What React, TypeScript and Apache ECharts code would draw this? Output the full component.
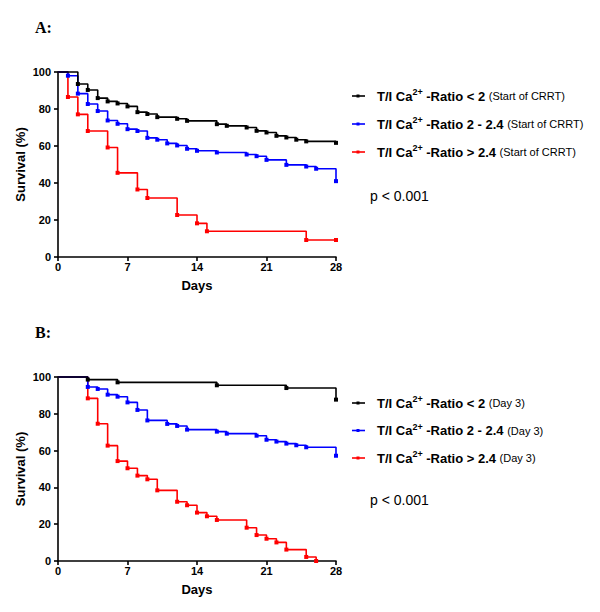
import React, { useEffect, useRef } from 'react';
import * as echarts from 'echarts';

const xTicks = [0, 7, 14, 21, 28];
const yTicks = [0, 20, 40, 60, 80, 100];

const aBlackDays = [0, 2, 3, 4, 5, 6, 7, 8, 9, 10, 12, 13, 16, 17, 19, 20, 21, 22, 23, 24, 25, 28];
const aBlackVals = [100, 93.5, 90.3, 85.9, 84.1, 83.0, 81.4, 78.3, 77.3, 75.6, 74.7, 73.6, 71.8, 70.9, 70.0, 68.2, 67.3, 65.5, 64.6, 63.4, 62.5, 61.7];

const aBlueDays = [0, 1, 2, 3, 4, 5, 6, 7, 8, 9, 10, 11, 12, 13, 14, 16, 19, 20, 21, 23, 25, 26, 28];
const aBlueVals = [100, 98.0, 88.3, 82.7, 78.9, 73.8, 72.0, 69.1, 68.1, 64.4, 63.4, 61.4, 60.3, 58.5, 57.4, 56.5, 55.4, 54.5, 52.5, 49.8, 48.9, 47.7, 41.0];

const aRedDays = [0, 1, 2, 3, 5, 6, 8, 9, 12, 14, 15, 25, 28];
const aRedVals = [100, 86.5, 77.1, 68.1, 59.2, 45.5, 36.5, 31.9, 22.7, 18.2, 13.9, 9.2, 9.2];

const bBlackDays = [0, 3, 6, 16, 23, 28];
const bBlackVals = [100, 98.6, 97.1, 95.5, 94.0, 87.7];

const bBlueDays = [0, 3, 4, 5, 6, 7, 8, 9, 11, 12, 13, 16, 17, 20, 21, 22, 23, 24, 25, 28];
const bBlueVals = [100, 94.6, 93.5, 90.4, 89.3, 86.2, 82.1, 76.4, 74.5, 73.4, 71.4, 70.3, 69.2, 68.1, 65.9, 64.9, 63.8, 62.9, 61.8, 57.2];

const bRedDays = [0, 3, 4, 5, 6, 7, 8, 9, 10, 12, 13, 14, 15, 16, 19, 20, 21, 22, 23, 25, 26];
const bRedVals = [100, 88.4, 74.6, 62.7, 54.3, 50.4, 46.4, 44.4, 38.4, 32.2, 30.3, 26.3, 24.3, 22.3, 18.1, 14.1, 12.1, 10.1, 6.2, 2.2, 0];

const groupLabels = ['-Ratio < 2', '-Ratio 2 - 2.4', '-Ratio > 2.4'];
const groupColors = ['#000000', '#0000ff', '#ff0000'];
const noteA = '(Start of CRRT)';
const noteB = '(Day 3)';
const pText = 'p < 0.001';

const FONT = 'Liberation Sans, Arial, sans-serif';

function mkSeries(name: string, days: number[], vals: number[], color: string, idx: number) {
  return {
    type: 'line',
    name,
    xAxisIndex: idx,
    yAxisIndex: idx,
    step: 'end',
    data: days.map((d, i) => ({
      value: [d, vals[i]],
      symbol: i === 0 ? 'none' : 'rect',
    })),
    symbol: 'rect',
    symbolSize: 4,
    showSymbol: true,
    lineStyle: { color, width: 1.6 },
    itemStyle: { color },
    clip: false,
    z: 3,
  };
}

function mkAxes(idx: number) {
  const x = {
    type: 'value',
    gridIndex: idx,
    min: xTicks[0],
    max: xTicks[xTicks.length - 1],
    interval: 7,
    name: 'Days',
    nameLocation: 'middle',
    nameGap: 22,
    nameTextStyle: { fontFamily: FONT, fontWeight: 'bold', fontSize: 13, color: '#000' },
    axisLine: { lineStyle: { color: '#000', width: 1.6 } },
    axisTick: { show: true, length: 4, lineStyle: { color: '#000', width: 1.6 } },
    axisLabel: { margin: 4, fontFamily: FONT, fontWeight: 'bold', fontSize: 11, color: '#000' },
    splitLine: { show: false },
  };
  const y = {
    type: 'value',
    gridIndex: idx,
    min: yTicks[0],
    max: yTicks[yTicks.length - 1],
    interval: 20,
    name: 'Survival (%)',
    nameLocation: 'middle',
    nameGap: 31,
    nameTextStyle: { fontFamily: FONT, fontWeight: 'bold', fontSize: 13, color: '#000' },
    axisLine: { show: true, lineStyle: { color: '#000', width: 1.6 } },
    axisTick: { show: true, length: 4, lineStyle: { color: '#000', width: 1.6 } },
    axisLabel: { margin: 7, fontFamily: FONT, fontWeight: 'bold', fontSize: 11, color: '#000' },
    splitLine: { show: false },
  };
  return { x, y };
}

function legendGraphics(top: number, gap: number, note: string, pY: number) {
  const els: any[] = [];
  groupLabels.forEach((lab, i) => {
    const y = top + i * gap;
    els.push({
      type: 'line',
      shape: { x1: 352, y1: y, x2: 365, y2: y },
      style: { stroke: groupColors[i], lineWidth: 1.6 },
    });
    els.push({
      type: 'rect',
      shape: { x: 356.5, y: y - 1.5, width: 3, height: 3 },
      style: { fill: groupColors[i] },
    });
    els.push({
      type: 'text',
      x: 377,
      y,
      style: {
        text: `{b|T/I Ca}{s|2+}{b| ${lab} }{n|${note}}`,
        verticalAlign: 'middle',
        fill: '#000',
        rich: {
          b: { fontFamily: FONT, fontWeight: 'bold', fontSize: 13, lineHeight: 17, fill: '#000' },
          s: { fontFamily: FONT, fontWeight: 'bold', fontSize: 9, lineHeight: 10, verticalAlign: 'top', fill: '#000' },
          n: { fontFamily: FONT, fontSize: 11, lineHeight: 17, fill: '#000' },
        },
      },
    });
  });
  els.push({
    type: 'text',
    x: 370,
    y: pY,
    style: { text: pText, fontFamily: FONT, fontSize: 14, fill: '#000', verticalAlign: 'middle' },
  });
  return els;
}

export default function App() {
  const ref = useRef<HTMLDivElement>(null);
  useEffect(() => {
    if (!ref.current) return;
    const chart = echarts.init(ref.current, null, { renderer: 'svg' });
    const a = mkAxes(0);
    const b = mkAxes(1);
    chart.setOption({
      animation: false,
      backgroundColor: '#fff',
      grid: [
        { left: 58, top: 72, width: 278, height: 185, containLabel: false },
        { left: 58, top: 377, width: 278, height: 184, containLabel: false },
      ],
      xAxis: [a.x, b.x],
      yAxis: [a.y, b.y],
      series: [
        mkSeries('A red', aRedDays, aRedVals, groupColors[2], 0),
        mkSeries('A blue', aBlueDays, aBlueVals, groupColors[1], 0),
        mkSeries('A black', aBlackDays, aBlackVals, groupColors[0], 0),
        mkSeries('B red', bRedDays, bRedVals, groupColors[2], 1),
        mkSeries('B blue', bBlueDays, bBlueVals, groupColors[1], 1),
        mkSeries('B black', bBlackDays, bBlackVals, groupColors[0], 1),
      ],
      graphic: [
        {
          type: 'text', x: 35, y: 27,
          style: { text: 'A:', fontFamily: 'Liberation Serif, Times New Roman, serif', fontWeight: 'bold', fontSize: 16, fill: '#000', verticalAlign: 'middle' },
        },
        {
          type: 'text', x: 35, y: 332,
          style: { text: 'B:', fontFamily: 'Liberation Serif, Times New Roman, serif', fontWeight: 'bold', fontSize: 16, fill: '#000', verticalAlign: 'middle' },
        },
        ...legendGraphics(96, 28, noteA, 196),
        ...legendGraphics(403, 27.5, noteB, 500),
      ],
    });
    return () => chart.dispose();
  }, []);
  return <div ref={ref} style={{ width: 600, height: 612, position: 'absolute', left: 0, top: 0 }} />;
}
